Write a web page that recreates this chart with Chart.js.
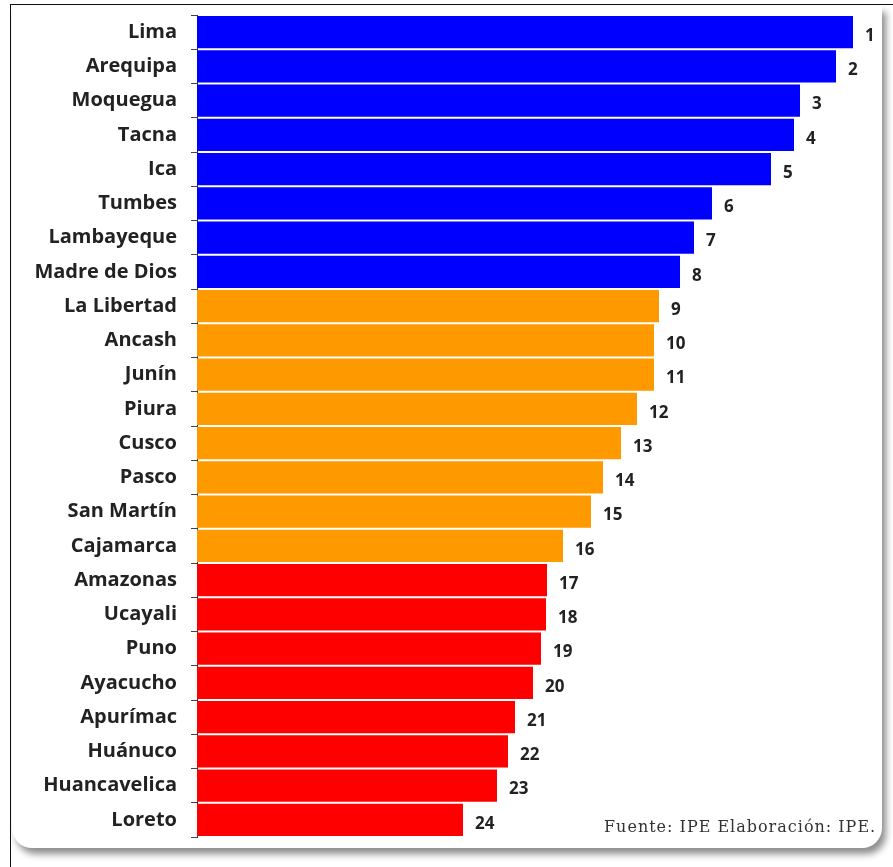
<!DOCTYPE html>
<html>
<head>
<meta charset="utf-8">
<script src="https://cdn.jsdelivr.net/npm/chart.js@4"></script>
<style>
    html, body { margin: 0; padding: 0; background: #fff; }
    #frame {
        position: absolute; left: 10px; top: 4px; width: 890px; height: 870px;
        border-left: 1.5px solid #111; border-top: 1.5px solid #111;
    }
    #card {
        position: absolute; left: 12px; top: 6px; width: 870px; height: 842px;
        background: #fff; border-radius: 0 0 20px 20px;
        box-shadow: 4px 6px 7px rgba(0, 0, 0, 0.45);
    }
    #wrap { position: absolute; left: 0; top: 0; width: 893px; height: 867px; }
    #source {
        position: absolute; left: 604px; top: 817px; letter-spacing: 1px;
        font-family: "DejaVu Serif", "Liberation Serif", serif; font-size: 16px; color: #333;
    }
</style>
</head>
<body>
<div id="frame"></div>
<div id="card"></div>
<div id="wrap"><canvas id="barChart"></canvas></div>
<div id="source">Fuente: IPE Elaboración: IPE.</div>
<script>
const regions = [
    'Lima', 'Arequipa', 'Moquegua', 'Tacna', 'Ica', 'Tumbes', 'Lambayeque', 'Madre de Dios',
    'La Libertad', 'Ancash', 'Junín', 'Piura', 'Cusco', 'Pasco', 'San Martín', 'Cajamarca',
    'Amazonas', 'Ucayali', 'Puno', 'Ayacucho', 'Apurímac', 'Huánuco', 'Huancavelica', 'Loreto'
];
const scores = [
    6.56, 6.39, 6.03, 5.97, 5.74, 5.15, 4.97, 4.83,
    4.62, 4.57, 4.57, 4.40, 4.24, 4.06, 3.94, 3.66,
    3.50, 3.49, 3.44, 3.36, 3.18, 3.11, 3.00, 2.66
];
const ranks = regions.map((r, i) => String(i + 1));
const groupColors = ['#0000ff', '#ff9900', '#ff0000'];
const groups = [0, 0, 0, 0, 0, 0, 0, 0, 1, 1, 1, 1, 1, 1, 1, 1, 2, 2, 2, 2, 2, 2, 2, 2];

const rankLabels = {
    id: 'rankLabels',
    afterDatasetsDraw(chart) {
        const { ctx } = chart;
        const meta = chart.getDatasetMeta(0);
        ctx.save();
        ctx.font = 'bold 17px "Open Sans", Lato, sans-serif';
        ctx.fillStyle = '#222';
        ctx.textBaseline = 'middle';
        ctx.textAlign = 'left';
        meta.data.forEach((bar, i) => {
            ctx.fillText(ranks[i], bar.x + 12, bar.y + 4);
        });
        ctx.restore();
    }
};

document.addEventListener('DOMContentLoaded', () => {
    const ctx = document.getElementById('barChart');
    new Chart(ctx, {
        type: 'bar',
        data: {
            labels: regions,
            datasets: [{
                data: scores,
                backgroundColor: groups.map(g => groupColors[g]),
                barPercentage: 1,
                categoryPercentage: 0.94
            }]
        },
        options: {
            indexAxis: 'y',
            responsive: true,
            maintainAspectRatio: false,
            animation: false,
            layout: { padding: { top: 15, bottom: 30, right: 13, left: 0 } },
            plugins: { legend: { display: false }, tooltip: { enabled: false } },
            scales: {
                x: { display: false, min: 0, max: 6.83 },
                y: {
                    afterFit(scale) {
                        scale.width = 197;
                        scale.paddingTop = 0;
                        scale.paddingBottom = 0;
                    },
                    border: { display: true, color: '#333', width: 1 },
                    grid: { drawOnChartArea: false, tickLength: 6, color: '#444', offset: true },
                    ticks: {
                        color: '#222',
                        padding: 14,
                        font: { family: '"Open Sans", Lato, sans-serif', size: 20, weight: 'bold', lineHeight: 1.0 }
                    }
                }
            }
        },
        plugins: [rankLabels]
    });
});
</script>
</body>
</html>
